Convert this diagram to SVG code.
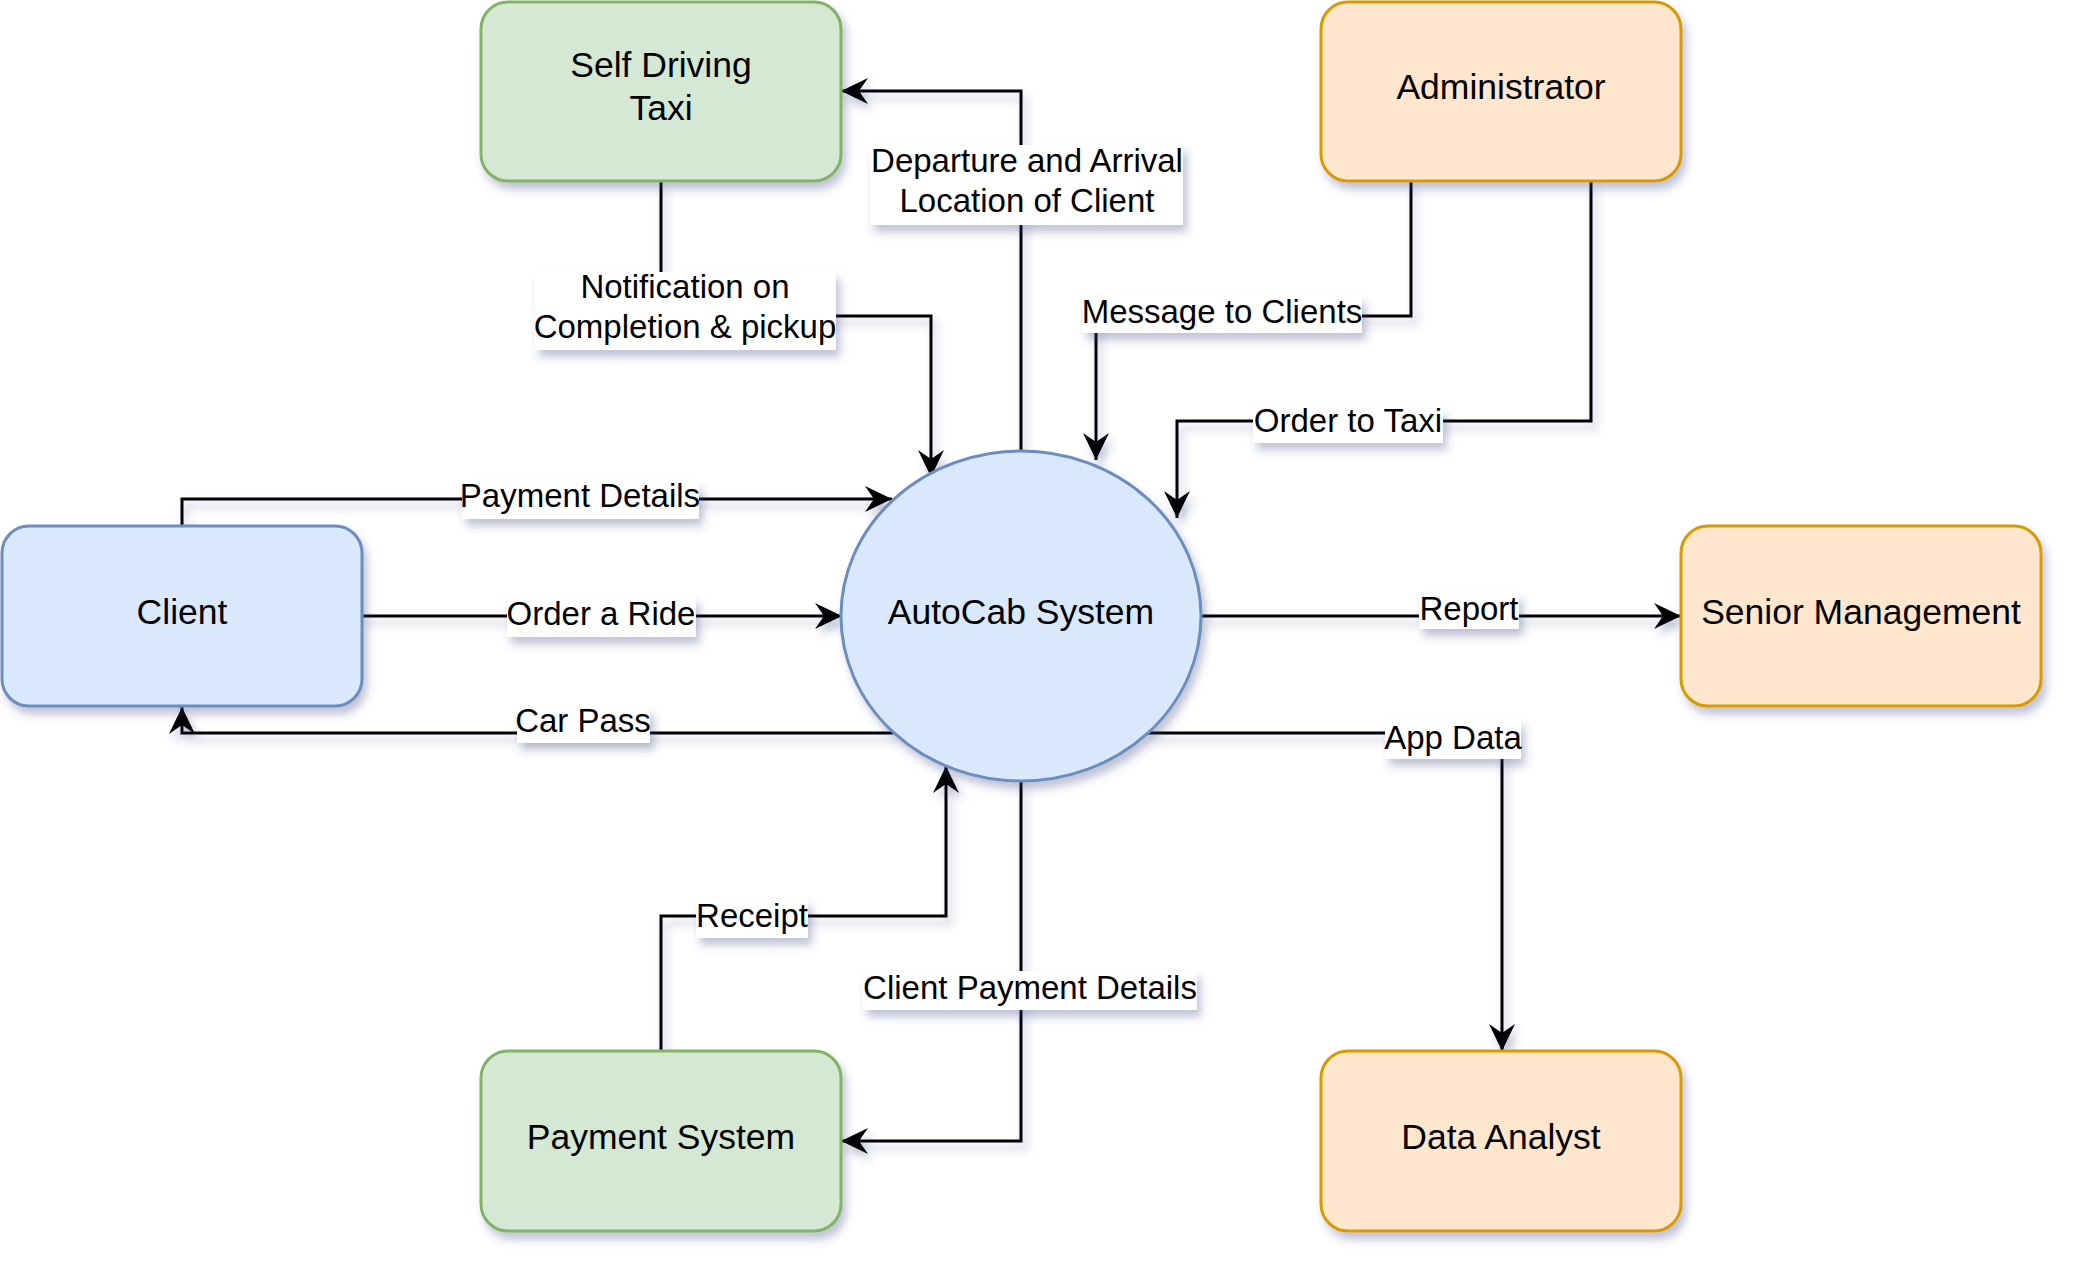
<svg xmlns="http://www.w3.org/2000/svg" width="2076" height="1266" viewBox="0 0 2076 1266">
<defs>
<filter id="sh" x="-20%" y="-20%" width="140%" height="150%">
<feDropShadow dx="4" dy="7" stdDeviation="4" flood-color="#3c4a82" flood-opacity="0.32"/>
</filter>
<marker id="arr" markerUnits="userSpaceOnUse" orient="auto" markerWidth="30" markerHeight="30" refX="27" refY="13" viewBox="0 0 30 26" overflow="visible">
<path d="M27,13 L0,0 L9,13 L0,26 Z" fill="#000"/>
</marker>
</defs>
<style>
.node rect, .node ellipse { stroke-width: 3; }
.green { fill: #d5e8d4; stroke: #82b366; }
.orange { fill: #ffe6cc; stroke: #d79b00; }
.blue { fill: #dae8fc; stroke: #6c8ebf; }
.nt { font-family: "Liberation Sans", Arial, sans-serif; font-size: 35.5px; fill: #000; text-anchor: middle; }
.edge { fill: none; stroke: #000; stroke-width: 3; marker-end: url(#arr); }
.lb { fill: #fff; }
.lt { font-family: "Liberation Sans", Arial, sans-serif; font-size: 33px; fill: #000; text-anchor: middle; }
</style>
<rect width="2076" height="1266" fill="#fff"/>

<g id="connectors" filter="url(#sh)">
<path class="edge" d="M1021,451 V91 H841"/>
<path class="edge" d="M661,181 V316 H931 V477"/>
<path class="edge" d="M1411,181 V316 H1096 V460"/>
<path class="edge" d="M1591,181 V421 H1177 V518"/>
<path class="edge" d="M182,526 V499 H892"/>
<path class="edge" d="M362,616 H842"/>
<path class="edge" d="M893,733 H182 V707"/>
<path class="edge" d="M1201,616 H1681"/>
<path class="edge" d="M1148,733 H1502 V1051"/>
<path class="edge" d="M661,1051 V916 H946 V766"/>
<path class="edge" d="M1021,781 V1141 H841"/>
</g>

<g id="edge-labels">
<g filter="url(#sh)">
<rect class="lb" x="870" y="145" width="313" height="80"/>
<rect class="lb" x="535" y="272" width="301" height="78"/>
<rect class="lb" x="1083" y="296" width="279" height="37"/>
<rect class="lb" x="1253" y="409" width="190" height="34"/>
<rect class="lb" x="462" y="482" width="237" height="37"/>
<rect class="lb" x="507" y="597" width="189" height="40"/>
<rect class="lb" x="517" y="708" width="133" height="35"/>
<rect class="lb" x="1419" y="593" width="100" height="36"/>
<rect class="lb" x="1385" y="720" width="136" height="39"/>
<rect class="lb" x="696" y="900" width="112" height="38"/>
<rect class="lb" x="863" y="971" width="334" height="39"/>
</g>
<text class="lt" x="1027" y="172">Departure and Arrival</text>
<text class="lt" x="1027" y="212">Location of Client</text>
<text class="lt" x="685" y="298">Notification on</text>
<text class="lt" x="685" y="338">Completion &amp; pickup</text>
<text class="lt" x="1222" y="323">Message to Clients</text>
<text class="lt" x="1348" y="432">Order to Taxi</text>
<text class="lt" x="580" y="507">Payment Details</text>
<text class="lt" x="601" y="625">Order a Ride</text>
<text class="lt" x="583" y="732">Car Pass</text>
<text class="lt" x="1469" y="620">Report</text>
<text class="lt" x="1453" y="749">App Data</text>
<text class="lt" x="752" y="927">Receipt</text>
<text class="lt" x="1030" y="999">Client Payment Details</text>
</g>

<g id="node-taxi" class="node">
<rect class="green" x="481" y="2" width="360" height="179" rx="27" filter="url(#sh)"/>
<text class="nt" x="661" y="77">Self Driving</text>
<text class="nt" x="661" y="120">Taxi</text>
</g>
<g id="node-admin" class="node">
<rect class="orange" x="1321" y="2" width="360" height="179" rx="27" filter="url(#sh)"/>
<text class="nt" x="1501" y="99">Administrator</text>
</g>
<g id="node-client" class="node">
<rect class="blue" x="2" y="526" width="360" height="180" rx="27" filter="url(#sh)"/>
<text class="nt" x="182" y="624">Client</text>
</g>
<g id="node-autocab" class="node">
<ellipse class="blue" cx="1021" cy="616" rx="180" ry="165" filter="url(#sh)"/>
<text class="nt" x="1021" y="624">AutoCab System</text>
</g>
<g id="node-senior" class="node">
<rect class="orange" x="1681" y="526" width="360" height="180" rx="27" filter="url(#sh)"/>
<text class="nt" x="1861" y="624">Senior Management</text>
</g>
<g id="node-payment" class="node">
<rect class="green" x="481" y="1051" width="360" height="180" rx="27" filter="url(#sh)"/>
<text class="nt" x="661" y="1149">Payment System</text>
</g>
<g id="node-analyst" class="node">
<rect class="orange" x="1321" y="1051" width="360" height="180" rx="27" filter="url(#sh)"/>
<text class="nt" x="1501" y="1149">Data Analyst</text>
</g>
</svg>
